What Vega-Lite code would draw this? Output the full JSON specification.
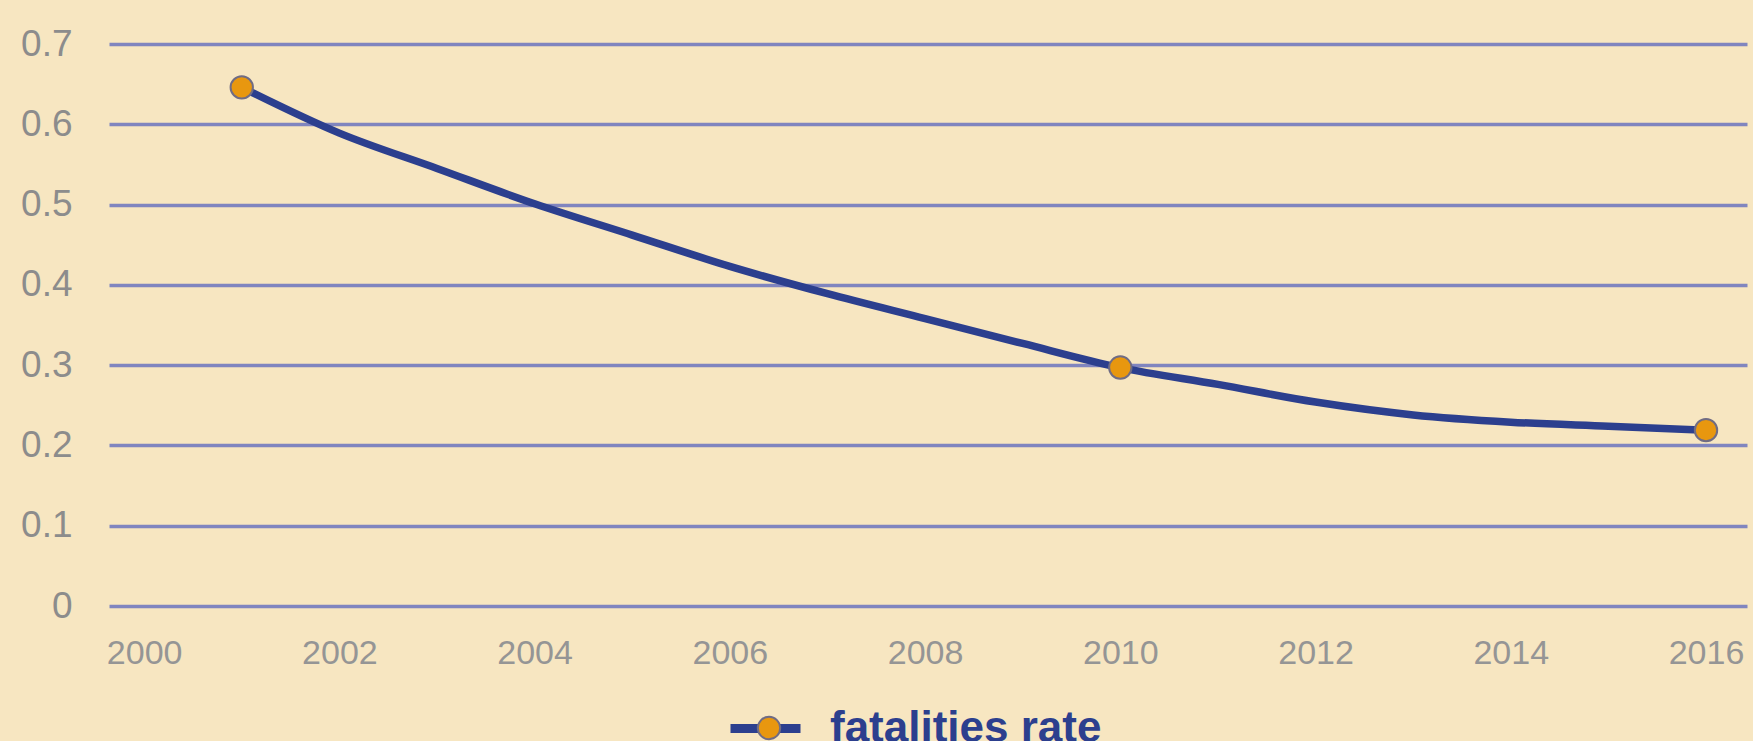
{
  "$schema": "https://vega.github.io/schema/vega-lite/v6.json",
  "autosize": "none",
  "width": 1638,
  "height": 562,
  "padding": {"left": 109, "top": 44, "right": 6, "bottom": 135},
  "background": "#f7e6c1",
  "config": {
    "view": {"stroke": null},
    "font": "Liberation Sans"
  },
  "data": {
    "values": [
      {"year": 2001, "rate": 0.646, "marker": true},
      {"year": 2002, "rate": 0.589, "marker": false},
      {"year": 2003, "rate": 0.545, "marker": false},
      {"year": 2004, "rate": 0.501, "marker": false},
      {"year": 2005, "rate": 0.462, "marker": false},
      {"year": 2006, "rate": 0.423, "marker": false},
      {"year": 2007, "rate": 0.389, "marker": false},
      {"year": 2008, "rate": 0.358, "marker": false},
      {"year": 2009, "rate": 0.327, "marker": false},
      {"year": 2010, "rate": 0.297, "marker": true},
      {"year": 2011, "rate": 0.276, "marker": false},
      {"year": 2012, "rate": 0.254, "marker": false},
      {"year": 2013, "rate": 0.238, "marker": false},
      {"year": 2014, "rate": 0.229, "marker": false},
      {"year": 2015, "rate": 0.224, "marker": false},
      {"year": 2016, "rate": 0.219, "marker": true}
    ]
  },
  "encoding": {
    "x": {
      "field": "year",
      "type": "quantitative",
      "scale": {"domain": [1999.64, 2016.42], "nice": false, "zero": false},
      "axis": {
        "title": null,
        "values": [2000, 2002, 2004, 2006, 2008, 2010, 2012, 2014, 2016],
        "format": "d",
        "grid": false,
        "domain": false,
        "ticks": false,
        "labelFontSize": 34,
        "labelColor": "#959595",
        "labelPadding": 30,
        "labelBaseline": "top",
        "labelFlush": false
      }
    },
    "y": {
      "field": "rate",
      "type": "quantitative",
      "scale": {"domain": [0, 0.7], "nice": false},
      "axis": {
        "title": null,
        "values": [0, 0.1, 0.2, 0.3, 0.4, 0.5, 0.6, 0.7],
        "format": "~g",
        "grid": true,
        "gridColor": "#8085bf",
        "gridWidth": 3.5,
        "gridOpacity": 1,
        "domain": false,
        "ticks": false,
        "labelFontSize": 37,
        "labelColor": "#8c8c8c",
        "labelPadding": 37,
        "labelFlush": false
      }
    }
  },
  "layer": [
    {
      "mark": {"type": "line", "interpolate": "monotone", "strokeWidth": 7.5, "strokeCap": "round"},
      "encoding": {
        "stroke": {
          "datum": "fatalities rate",
          "scale": {"range": ["#2c3f8e"]},
          "legend": {
            "orient": "none",
            "legendX": 617,
            "legendY": 645,
            "title": null,
            "padding": 0,
            "symbolType": "stroke",
            "symbolSize": 4900,
            "symbolStrokeWidth": 9,
            "symbolStrokeColor": "#2c3f8e",
            "labelFontSize": 44,
            "labelFont": "Liberation Sans",
            "labelFontWeight": "bold",
            "labelColor": "#2c3f8e",
            "labelOffset": 25,
            "labelLimit": 600
          }
        }
      }
    },
    {
      "transform": [{"filter": "datum.marker"}],
      "mark": {"type": "point", "filled": true, "size": 500, "stroke": "#706c84", "strokeWidth": 2, "opacity": 1},
      "encoding": {
        "fill": {
          "datum": "marker",
          "scale": {"range": ["#e8970f"]},
          "legend": {
            "orient": "none",
            "legendX": 638,
            "legendY": 662,
            "title": null,
            "padding": 0,
            "symbolType": "circle",
            "symbolSize": 500,
            "symbolStrokeColor": "#706c84",
            "symbolStrokeWidth": 2,
            "symbolOpacity": 1,
            "labelFontSize": 44,
            "labelExpr": "''"
          }
        }
      }
    }
  ]
}
